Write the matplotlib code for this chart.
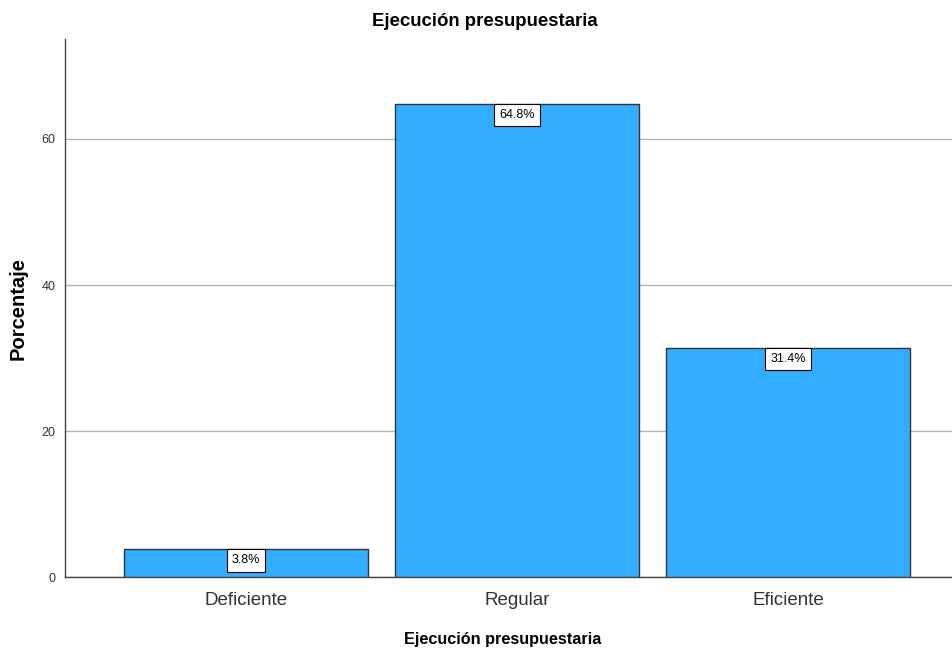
import matplotlib.pyplot as plt

# ---------- DATA ----------
categories = ["Deficiente", "Regular", "Eficiente"]
percentages = [3.8, 64.8, 31.4]
y_ticks = [0, 20, 40, 60]

plt.rcParams['font.family'] = ['Liberation Sans', 'DejaVu Sans']

fig = plt.figure(figsize=(9.53, 6.54), dpi=100)
ax = fig.add_axes([0.0682, 0.1177, 0.9318, 0.8227])

x = list(range(len(categories)))
ax.bar(x, percentages, width=0.9, color='#33adff', edgecolor='#333333',
       linewidth=1.0, zorder=3)

# value labels in boxes at top of each bar
for xi, val in zip(x, percentages):
    ax.annotate(f"{val:.1f}%", (xi, val), xytext=(0, -3.6),
                textcoords='offset points', ha='center', va='top',
                fontsize=9, zorder=4,
                bbox=dict(boxstyle='square,pad=0.42', fc='white', ec='black', lw=0.8))

ax.set_xlim(-0.668, 2.609)
ax.set_ylim(0, 73.7)
ax.set_xticks(x)
ax.set_xticklabels(categories, fontsize=13.5, color='#333333')
ax.set_yticks(y_ticks)
ax.tick_params(axis='y', labelsize=9, length=0, pad=7, labelcolor='#333333')
ax.tick_params(axis='x', length=0, pad=11)

ax.yaxis.grid(True, color='#b4b4b4', linewidth=1.0, zorder=0)
ax.set_axisbelow(True)

for side in ['top', 'right']:
    ax.spines[side].set_visible(False)
for side in ['left', 'bottom']:
    ax.spines[side].set_color('#444444')
    ax.spines[side].set_linewidth(1.0)

fig.text(485 / 953, 1 - 22 / 654, "Ejecución presupuestaria", fontsize=13.4,
         fontweight='bold', ha='center', va='center')
ax.set_xlabel("Ejecución presupuestaria", fontsize=11.7, fontweight='bold', labelpad=17)
ax.xaxis.set_label_coords(0.493, -0.103)
ax.set_ylabel("Porcentaje", fontsize=14.5, fontweight='bold', labelpad=10)

fig.savefig("out.png", dpi=100)
